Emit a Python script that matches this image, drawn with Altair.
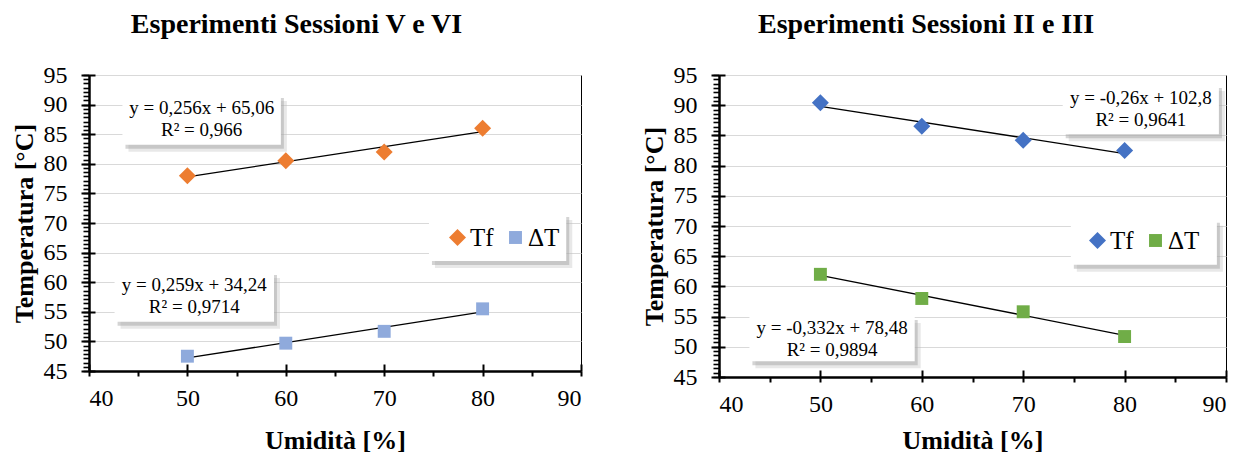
import altair as alt
import pandas as pd

FONT = "Liberation Serif"

humidity = [50, 60, 70, 80]
series_names = ["Tf", "ΔT"]
left_tf = [78.0, 80.5, 82.0, 86.0]
left_dt = [47.5, 49.7, 51.7, 55.5]
right_tf = [90.4, 86.5, 84.2, 82.5]
right_dt = [62.0, 58.0, 55.8, 51.7]
left_colors = ["#ED7D31", "#8FAADC"]
right_colors = ["#4472C4", "#70AD47"]
titles = ["Esperimenti Sessioni V e VI", "Esperimenti Sessioni II e III"]
x_title = "Umidità [%]"
y_title = "Temperatura [°C]"
left_eq_line1 = ["y = 0,256x + 65,06", "y = 0,259x + 34,24"]
left_eq_line2 = ["R² = 0,966", "R² = 0,9714"]
right_eq_line1 = ["y = -0,26x + 102,8", "y = -0,332x + 78,48"]
right_eq_line2 = ["R² = 0,9641", "R² = 0,9894"]
# annotation boxes [x1, x2, y1, y2] in data units
left_eq_boxes = [[43.4, 59.5, 83.2, 91.8], [42.6, 58.8, 53.3, 61.9]]
right_eq_boxes = [[73.9, 89.3, 85.2, 93.5], [43.0, 59.3, 47.6, 55.1]]
left_legend_box = [74.55, 88.5, 63.6, 71.7]
right_legend_box = [74.7, 89.1, 63.6, 71.2]
x_ticks = [40, 45, 50, 55, 60, 65, 70, 75, 80, 85, 90]
x_major = [40, 50, 60, 70, 80, 90]
y_ticks = [45, 50, 55, 60, 65, 70, 75, 80, 85, 90, 95]
y_minor = [45 + i * 5 / 7 for i in range(71)]

DIAMOND = "M0,-1L1,0L0,1L-1,0Z"
SQUARE = "M-0.76,-0.76L0.76,-0.76L0.76,0.76L-0.76,0.76Z"


def panel(tf, dt, colors, title, line1, line2, eq_boxes, legend_box, legend_xy,
          w, h, xtitle_pad, title_dx):
    df = pd.DataFrame({
        "x": humidity * 2,
        "y": tf + dt,
        "series": [series_names[0]] * len(humidity) + [series_names[1]] * len(humidity),
    })
    boxes = pd.DataFrame({
        "x1": [b[0] for b in eq_boxes] + [legend_box[0]],
        "x2": [b[1] for b in eq_boxes] + [legend_box[1]],
        "y1": [b[2] for b in eq_boxes] + [legend_box[2]],
        "y2": [b[3] for b in eq_boxes] + [legend_box[3]],
    })
    texts = pd.DataFrame({
        "tx": [(b[0] + b[1]) / 2 for b in eq_boxes],
        "ty": [(b[2] + b[3]) / 2 for b in eq_boxes],
        "l1": line1,
        "l2": line2,
    })
    xs = alt.Scale(domain=[40, 90], nice=False, zero=False)
    ys = alt.Scale(domain=[45, 95], nice=False, zero=False)

    main_x_axis = alt.Axis(
        values=x_ticks, labelExpr="datum.value % 10 === 0 ? datum.label : ''",
        grid=False, domainColor="black", domainWidth=2.5, tickColor="black",
        tickWidth=2, tickSize=5, labelFont=FONT, labelFontSize=24, labelColor="black",
        labelPadding=10, title=x_title, titleFont=FONT, titleFontSize=26,
        titleFontWeight="bold", titleColor="black", titlePadding=xtitle_pad,
    )
    main_y_axis = alt.Axis(
        values=y_ticks, grid=True, gridColor="#d9d9d9", gridWidth=1.2,
        domainColor="black", domainWidth=2.5, tickColor="black", tickWidth=2,
        tickSize=8, labelFont=FONT, labelFontSize=24, labelColor="black",
        labelPadding=14, title=y_title, titleFont=FONT, titleFontSize=26,
        titleFontWeight="bold", titleColor="black", titlePadding=6,
    )
    minor_y_axis = alt.Axis(
        values=y_minor, orient="left", labels=False, domain=False, grid=False,
        ticks=True, tickSize=6, tickWidth=1.6, tickColor="black", title=None,
    )
    inner_x_axis = alt.Axis(
        values=x_major, orient="top", offset=-h, labels=False, domain=False,
        grid=False, ticks=True, tickSize=7, tickWidth=2, tickColor="black", title=None,
    )
    inner_y_axis = alt.Axis(
        values=y_ticks, orient="right", offset=-w, labels=False, domain=False,
        grid=False, ticks=True, tickSize=6, tickWidth=2, tickColor="black", title=None,
    )

    shadow_far = alt.Chart(boxes).mark_rect(
        fill="#bdbdbd", opacity=0.35, xOffset=6, x2Offset=6, yOffset=7, y2Offset=7
    ).encode(
        x=alt.X("x1:Q", scale=xs, axis=main_x_axis),
        x2="x2",
        y=alt.Y("y1:Q", scale=ys, axis=main_y_axis),
        y2="y2",
    )
    shadow = alt.Chart(boxes).mark_rect(
        fill="#a0a0a0", opacity=0.45, xOffset=3, x2Offset=3, yOffset=4, y2Offset=4
    ).encode(
        x=alt.X("x1:Q", scale=xs, axis=None),
        x2="x2",
        y=alt.Y("y1:Q", scale=ys, axis=None),
        y2="y2",
    )
    box = alt.Chart(boxes).mark_rect(fill="white").encode(
        x=alt.X("x1:Q", scale=xs, axis=None),
        x2="x2",
        y=alt.Y("y1:Q", scale=ys, axis=None),
        y2="y2",
    )
    trend = alt.Chart(df).transform_regression(
        "x", "y", groupby=["series"], extent=[50, 80]
    ).mark_line(color="black", strokeWidth=1.3).encode(
        x=alt.X("x:Q", scale=xs, axis=None),
        y=alt.Y("y:Q", scale=ys, axis=None),
        detail="series:N",
    )
    legend = alt.Legend(
        title=None, orient="none", legendX=legend_xy[0], legendY=legend_xy[1],
        direction="horizontal", labelFont=FONT, labelFontSize=25,
        labelColor="black", symbolSize=289, symbolStrokeWidth=0,
        labelOffset=0, columnPadding=9, padding=0, symbolOpacity=1,
        gridAlign="none",
    )
    points = alt.Chart(df).mark_point(filled=True, size=289, opacity=1, strokeWidth=0).encode(
        x=alt.X("x:Q", scale=xs, axis=None),
        y=alt.Y("y:Q", scale=ys, axis=None),
        color=alt.Color("series:N", scale=alt.Scale(domain=series_names, range=colors),
                        legend=legend),
        shape=alt.Shape("series:N", scale=alt.Scale(domain=series_names, range=[DIAMOND, SQUARE]),
                        legend=legend),
    )
    text_1 = alt.Chart(texts).mark_text(
        font=FONT, fontSize=19, color="black", align="center", baseline="middle", dy=-11,
    ).encode(
        x=alt.X("tx:Q", scale=xs, axis=None),
        y=alt.Y("ty:Q", scale=ys, axis=None),
        text="l1:N",
    )
    text_2 = alt.Chart(texts).mark_text(
        font=FONT, fontSize=19, color="black", align="center", baseline="middle", dy=11,
    ).encode(
        x=alt.X("tx:Q", scale=xs, axis=None),
        y=alt.Y("ty:Q", scale=ys, axis=None),
        text="l2:N",
    )
    ticks_a = alt.Chart(df).mark_point(opacity=0).encode(
        x=alt.X("x:Q", scale=xs, axis=inner_x_axis),
        y=alt.Y("y:Q", scale=ys, axis=minor_y_axis),
    )
    ticks_b = alt.Chart(df).mark_point(opacity=0).encode(
        x=alt.X("x:Q", scale=xs, axis=None),
        y=alt.Y("y:Q", scale=ys, axis=inner_y_axis),
    )
    return alt.layer(shadow_far, shadow, box, trend, points, text_1, text_2,
                     ticks_a, ticks_b).resolve_axis(
        x="independent", y="independent"
    ).properties(
        width=w, height=h,
        title=alt.TitleParams(
            title, font=FONT, fontSize=28, fontWeight="bold", color="black",
            anchor="middle", frame="bounds", offset=24, dx=title_dx,
        ),
    )


left = panel(left_tf, left_dt, left_colors, titles[0], left_eq_line1, left_eq_line2,
             left_eq_boxes, left_legend_box, (356, 150), 492, 296, 17, 0)
right = panel(right_tf, right_dt, right_colors, titles[1], right_eq_line1, right_eq_line2,
              right_eq_boxes, right_legend_box, (366, 153), 507, 302, 11, -8)

chart = alt.hconcat(left, right, spacing=57).resolve_scale(
    color="independent", shape="independent"
).properties(
    padding={"left": 2, "top": 2, "right": 0, "bottom": 0}
).configure_view(stroke="black", strokeWidth=1)

chart.save("out.html", embed_options={"renderer": "svg", "actions": False})
